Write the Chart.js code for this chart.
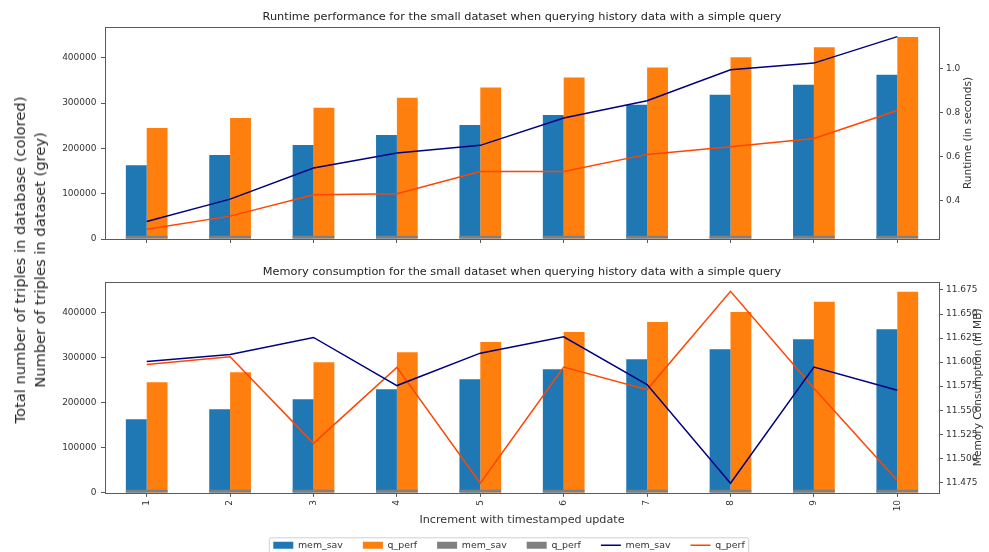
<!DOCTYPE html>
<html>
<head>
<meta charset="utf-8">
<script src="https://cdn.jsdelivr.net/npm/chart.js@4.4.1/dist/chart.umd.min.js"></script>
<style>
  html, body { margin: 0; padding: 0; background: #fff; }
  #wrap { position: relative; width: 989px; height: 552px; overflow: hidden; background: #fff; }
  #runtimeChart { position: absolute; left: 0; top: 0; }
  #memoryChart { position: absolute; left: 0; top: 255px; }
  #sharedLabel {
    position: absolute; left: 30px; top: 260px;
    transform: translate(-50%, -50%) rotate(-90deg);
    white-space: nowrap; text-align: center;
    font-family: 'DejaVu Sans', sans-serif; font-size: 14.7px; line-height: 20px;
    color: #262626;
  }
</style>
</head>
<body>
<div id="wrap">
  <canvas id="runtimeChart" width="989" height="252"></canvas>
  <canvas id="memoryChart" width="1018" height="305"></canvas>
  <div id="sharedLabel">Total number of triples in database (colored)<br>Number of triples in dataset (grey)</div>
</div>
<script>
// Increments (x categories)
const increments = ['1', '2', '3', '4', '5', '6', '7', '8', '9', '10'];

// Triples in the database after each increment (coloured bars)
const memSavTriples = [163000, 185200, 207400, 229600, 251800, 274000, 296200, 318400, 340600, 362800];
const qPerfTriples  = [245000, 267300, 289600, 311900, 334200, 356500, 378800, 401100, 423400, 445700];

// Triples in the small dataset itself (grey bars)
const memSavDatasetTriples = [7000, 7000, 7000, 7000, 7000, 7000, 7000, 7000, 7000, 7000];
const qPerfDatasetTriples  = [7000, 7000, 7000, 7000, 7000, 7000, 7000, 7000, 7000, 7000];

// Query runtime in seconds
const memSavRuntime = [0.306, 0.407, 0.548, 0.616, 0.651, 0.775, 0.853, 0.994, 1.024, 1.144];
const qPerfRuntime  = [0.270, 0.330, 0.427, 0.432, 0.532, 0.532, 0.610, 0.645, 0.682, 0.809];

// Memory consumption in MB
const memSavMemory = [11.6007, 11.6080, 11.6256, 11.5756, 11.6093, 11.6263, 11.5766, 11.4740, 11.5948, 11.5707];
const qPerfMemory  = [11.5976, 11.6056, 11.5155, 11.5945, 11.4740, 11.5948, 11.5714, 11.6736, 11.5727, 11.4769];

// Tick values
const countTicks   = [0, 100000, 200000, 300000, 400000];
const runtimeTicks = [0.4, 0.6, 0.8, 1.0];
const memoryTicks  = [11.475, 11.5, 11.525, 11.55, 11.575, 11.6, 11.625, 11.65, 11.675];

const FONT = "'DejaVu Sans', sans-serif";
Chart.defaults.font.family = FONT;
Chart.defaults.color = '#333';

const BLUE = '#1f77b4', ORANGE = '#ff7f0e', GREY = '#808080';
const LINE_MEM = '#000080', LINE_Q = '#ff4500';
const FRAME = '#5a5a5a';

// 5% margin around the data, like an autoscaled secondary axis
function paddedRange(a, b) {
  const all = a.concat(b);
  const lo = Math.min(...all), hi = Math.max(...all);
  const m = (hi - lo) * 0.05;
  return { min: lo - m, max: hi + m };
}

// Box around the plotting area, drawn above the bars
const framePlugin = {
  id: 'frame',
  afterDatasetsDraw(chart) {
    const { ctx, chartArea: a } = chart;
    ctx.save();
    ctx.strokeStyle = FRAME;
    ctx.lineWidth = 1;
    ctx.strokeRect(Math.round(a.left) + 0.5, Math.round(a.top) + 0.5,
                   Math.round(a.right - a.left), Math.round(a.bottom - a.top));
    ctx.restore();
  }
};

// Rotated title for the secondary axis, reading bottom to top
const sideTitlePlugin = {
  id: 'sideTitle',
  afterDraw(chart, args, opts) {
    if (!opts.text) return;
    const { ctx, chartArea: a } = chart;
    ctx.save();
    ctx.translate(opts.x, (a.top + a.bottom) / 2);
    ctx.rotate(-Math.PI / 2);
    ctx.font = opts.size + 'px ' + FONT;
    ctx.fillStyle = '#333';
    ctx.textAlign = 'center';
    ctx.textBaseline = 'middle';
    ctx.fillText(opts.text, 0, 0);
    ctx.restore();
  }
};

// Light rounded frame around the legend entries
const legendFramePlugin = {
  id: 'legendFrame',
  afterDraw(chart, args, opts) {
    const lg = chart.legend;
    if (!opts.enabled || !lg || !lg.legendHitBoxes || !lg.legendHitBoxes.length) return;
    const hb = lg.legendHitBoxes;
    const left = Math.min(...hb.map(h => h.left)) - 4;
    const right = Math.max(...hb.map(h => h.left + h.width)) + 4;
    const cy = hb[0].top + hb[0].height / 2;
    const top = cy - 8, bottom = cy + 9;
    const ctx = chart.ctx, r = 2;
    ctx.save();
    ctx.strokeStyle = '#d0d0d0';
    ctx.lineWidth = 1;
    ctx.beginPath();
    ctx.moveTo(left + r, top + 0.5);
    ctx.lineTo(right - r, top + 0.5);
    ctx.quadraticCurveTo(right, top + 0.5, right, top + r);
    ctx.lineTo(right, bottom - r);
    ctx.quadraticCurveTo(right, bottom, right - r, bottom);
    ctx.lineTo(left + r, bottom);
    ctx.quadraticCurveTo(left, bottom, left, bottom - r);
    ctx.lineTo(left, top + r);
    ctx.quadraticCurveTo(left, top + 0.5, left + r, top + 0.5);
    ctx.stroke();
    ctx.restore();
  }
};

function barDatasets() {
  return [
    { type: 'bar', label: 'mem_sav', data: memSavTriples, backgroundColor: BLUE, stack: 'mem', yAxisID: 'y', order: 3, pointStyle: 'rect' },
    { type: 'bar', label: 'q_perf', data: qPerfTriples, backgroundColor: ORANGE, stack: 'q', yAxisID: 'y', order: 3, pointStyle: 'rect' },
    { type: 'bar', label: 'mem_sav', data: memSavDatasetTriples, backgroundColor: GREY, stack: 'mem', yAxisID: 'y', order: 2, pointStyle: 'rect' },
    { type: 'bar', label: 'q_perf', data: qPerfDatasetTriples, backgroundColor: GREY, stack: 'q', yAxisID: 'y', order: 2, pointStyle: 'rect' }
  ];
}

function lineDataset(label, data, color) {
  return { type: 'line', label, data, borderColor: color, backgroundColor: color, borderWidth: 1.5,
           pointRadius: 0, pointStyle: 'line', tension: 0, yAxisID: 'y1', order: 1 };
}

const tickFont = { size: 9, family: FONT };
const tickGrid = { drawOnChartArea: false, drawTicks: true, tickLength: 4, color: FRAME, tickColor: FRAME };

function buildOptions(cfg) {
  const rr = paddedRange(cfg.lineA, cfg.lineB);
  return {
    responsive: false,
    animation: false,
    events: [],
    layout: { padding: 0 },
    datasets: { bar: { categoryPercentage: 0.5, barPercentage: 1.0, borderWidth: 0 } },
    scales: {
      x: {
        type: 'category', offset: true,
        grid: Object.assign({}, tickGrid, { offset: false }),
        border: { display: false },
        ticks: cfg.showX
          ? { display: true, autoSkip: false, minRotation: 90, maxRotation: 90, font: tickFont, color: '#333', padding: 3 }
          : { display: false },
        title: cfg.showX
          ? { display: true, text: 'Increment with timestamped update', color: '#333',
              font: { size: 11.2, family: FONT, lineHeight: 1 }, padding: { top: 0, bottom: -4.6 } }
          : { display: false },
        afterFit: s => { s.height = cfg.xHeight; }
      },
      y: {
        position: 'left', stacked: false, min: 0, max: Math.max(...qPerfTriples) * 1.05,
        afterBuildTicks: s => { s.ticks = countTicks.map(v => ({ value: v })); },
        ticks: { font: tickFont, color: '#333', padding: 4.5, callback: v => String(v) },
        grid: tickGrid, border: { display: false },
        afterFit: s => { s.width = 105; }
      },
      y1: {
        position: 'right', min: rr.min, max: rr.max,
        afterBuildTicks: s => { s.ticks = cfg.rightTicks.map(v => ({ value: v })); },
        ticks: { font: tickFont, color: '#333', padding: 3, callback: cfg.rightFormat },
        grid: tickGrid, border: { display: false },
        afterFit: s => { s.width = cfg.rightWidth; }
      }
    },
    plugins: {
      title: { display: true, text: cfg.title, fullSize: false, color: '#222',
               font: { size: 11.3, family: FONT, weight: 'normal', lineHeight: 1.2 },
               padding: { top: 10.5, bottom: cfg.titleBottom } },
      legend: cfg.legend
        ? { display: true, position: 'bottom', fullSize: true,
            labels: { usePointStyle: true, pointStyleWidth: 20, boxHeight: 7, padding: 20, color: '#333',
                      font: { size: 9.4, family: FONT },
                      sort: (a, b) => a.datasetIndex - b.datasetIndex } }
        : { display: false },
      tooltip: { enabled: false },
      sideTitle: { text: cfg.sideTitle, x: cfg.sideX, size: 10.6 },
      legendFrame: { enabled: !!cfg.legend }
    }
  };
}

new Chart(document.getElementById('runtimeChart'), {
  data: {
    labels: increments,
    datasets: barDatasets().concat([
      lineDataset('mem_sav', memSavRuntime, LINE_MEM),
      lineDataset('q_perf', qPerfRuntime, LINE_Q)
    ])
  },
  options: buildOptions({
    title: 'Runtime performance for the small dataset when querying history data with a simple query',
    titleBottom: 2.94,
    showX: false, xHeight: 13,
    lineA: memSavRuntime, lineB: qPerfRuntime,
    rightTicks: runtimeTicks, rightFormat: v => v.toFixed(1), rightWidth: 50,
    sideTitle: 'Runtime (in seconds)', sideX: 968,
    legend: false
  }),
  plugins: [framePlugin, sideTitlePlugin, legendFramePlugin]
});

new Chart(document.getElementById('memoryChart'), {
  data: {
    labels: increments,
    datasets: barDatasets().concat([
      lineDataset('mem_sav', memSavMemory, LINE_MEM),
      lineDataset('q_perf', qPerfMemory, LINE_Q)
    ])
  },
  options: buildOptions({
    title: 'Memory consumption for the small dataset when querying history data with a simple query',
    titleBottom: 2.64,
    showX: true, xHeight: 27.7,
    lineA: memSavMemory, lineB: qPerfMemory,
    rightTicks: memoryTicks, rightFormat: v => v.toFixed(3), rightWidth: 79,
    sideTitle: 'Memory Consumption (in MB)', sideX: 978,
    legend: true
  }),
  plugins: [framePlugin, sideTitlePlugin, legendFramePlugin]
});
</script>
</body>
</html>
